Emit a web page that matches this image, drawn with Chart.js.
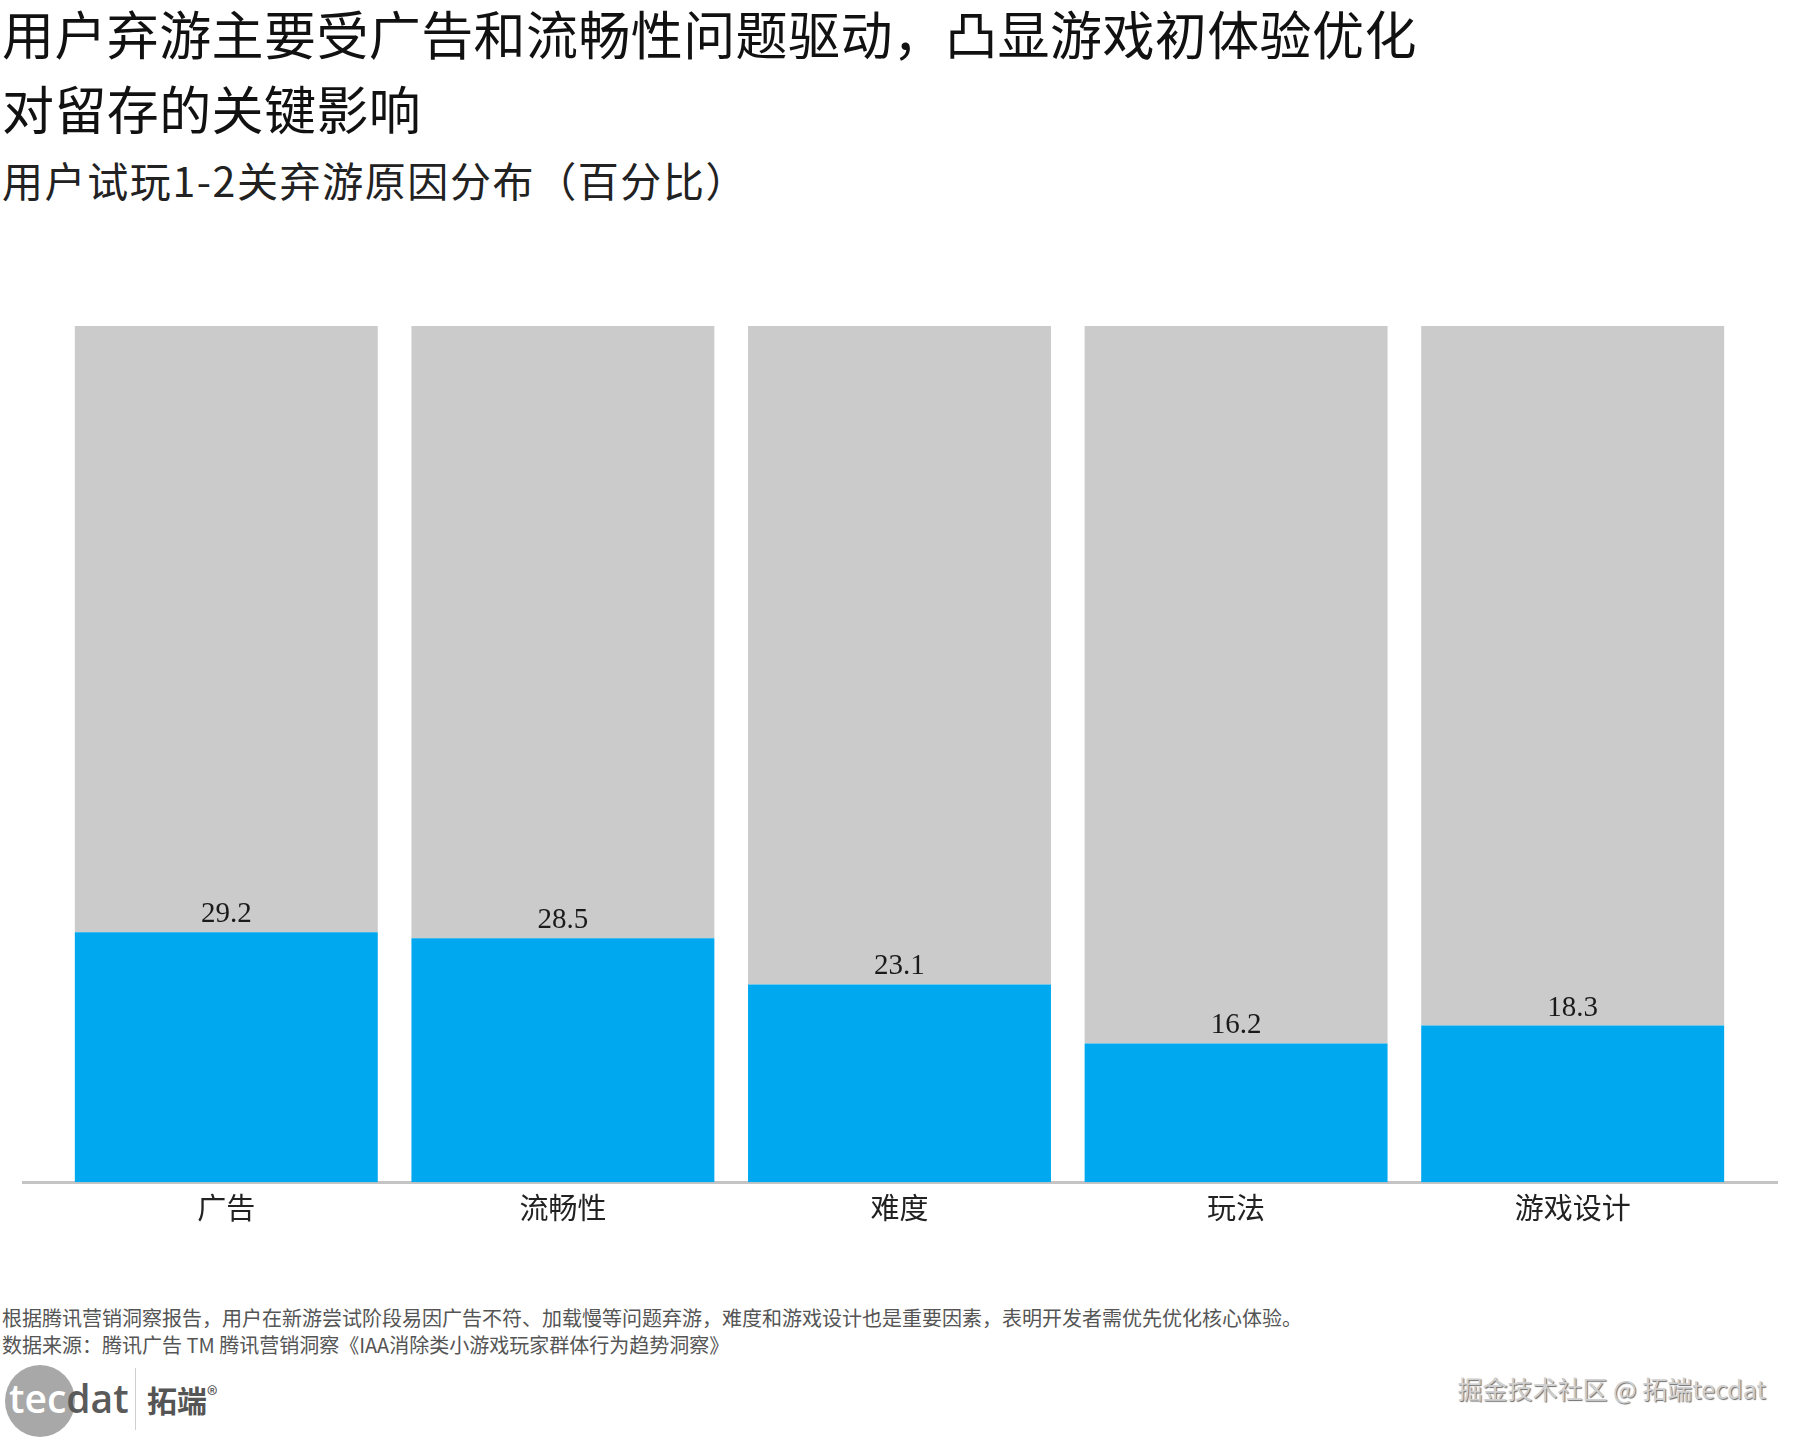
<!DOCTYPE html>
<html lang="zh-CN">
<head>
<meta charset="utf-8">
<title>用户试玩1-2关弃游原因分布</title>
<script src="https://cdn.jsdelivr.net/npm/chart.js@4.4.1/dist/chart.umd.min.js"></script>
<style>
  html, body { margin: 0; padding: 0; background: #ffffff; }
  body { width: 1800px; height: 1440px; position: relative; overflow: hidden;
         font-family: "Noto Sans CJK SC", "Noto Sans", sans-serif; }
  .txt { position: absolute; left: 2px; white-space: nowrap; line-height: 1; }
  #t1 { top: 7px; font-size: 52px; letter-spacing: 0.4px; color: #111; }
  #t2 { top: 82px; font-size: 52px; letter-spacing: 0.4px; color: #111; }
  #sub { top: 159px; font-size: 41px; letter-spacing: 1.6px; color: #222; }
  #note1 { top: 1308px; font-size: 20px; color: #555; }
  #note2 { top: 1335px; font-size: 20px; color: #555; }
  #chartBox { position: absolute; left: 0; top: 300px; width: 1800px; height: 1000px; }
  #logo { position: absolute; left: 0; top: 1362px; width: 260px; height: 78px; }
  #logoCircle { position: absolute; left: 5px; top: 3px; width: 70px; height: 72px; border-radius: 50%; background: #a8a8a8; }
  #logoTec { position: absolute; left: 9px; top: 16px; font-family: "Open Sans", sans-serif; font-weight: 600; font-size: 39px; line-height: 1; color: #fff; }
  #logoTec span { color: #5a5a5a; }
  #logoBar { position: absolute; left: 135px; top: 6px; width: 1px; height: 62px; background: #cfcfcf; }
  #logoCn { position: absolute; left: 147px; top: 20px; font-size: 30px; font-weight: bold; color: #555; line-height: 1; }
  #logoCn sup { font-size: 22px; font-weight: normal; vertical-align: 9px; }
  #wm { position: absolute; right: 34px; top: 1376px; font-size: 25px; color: #d0d0d0; line-height: 1;
        text-shadow: 1px 1px 1px #6d6d6d; white-space: nowrap; }
</style>
</head>
<body>
<div class="txt" id="t1">用户弃游主要受广告和流畅性问题驱动，凸显游戏初体验优化</div>
<div class="txt" id="t2">对留存的关键影响</div>
<div class="txt" id="sub">用户试玩1-2关弃游原因分布（百分比）</div>
<div id="chartBox"><canvas id="c"></canvas></div>
<div class="txt" id="note1">根据腾讯营销洞察报告，用户在新游尝试阶段易因广告不符、加载慢等问题弃游，难度和游戏设计也是重要因素，表明开发者需优先优化核心体验。</div>
<div class="txt" id="note2">数据来源：腾讯广告 TM 腾讯营销洞察《IAA消除类小游戏玩家群体行为趋势洞察》</div>
<div id="logo">
  <div id="logoCircle"></div>
  <div id="logoTec">tec<span>dat</span></div>
  <div id="logoBar"></div>
  <div id="logoCn">拓端<sup>®</sup></div>
</div>
<div id="wm">掘金技术社区 @ 拓端tecdat</div>

<script>
// ---- data ----
const categories = ['广告', '流畅性', '难度', '玩法', '游戏设计'];
const values = [29.2, 28.5, 23.1, 16.2, 18.3];
const totalPct = 100;

// ---- style ----
const BLUE = '#00A8F0';
const GREY = '#CBCBCB';

const remainder = values.map(v => +(totalPct - v).toFixed(1));

const valueLabels = {
  id: 'valueLabels',
  afterDatasetsDraw(chart) {
    const ctx = chart.ctx;
    const meta = chart.getDatasetMeta(0);
    ctx.save();
    ctx.font = '29px "Liberation Serif", "DejaVu Serif", serif';
    ctx.fillStyle = '#1a1a1a';
    ctx.textAlign = 'center';
    ctx.textBaseline = 'alphabetic';
    meta.data.forEach((bar, i) => {
      ctx.fillText(values[i].toFixed(1), bar.x, bar.y - 10);
    });
    ctx.restore();
  }
};

new Chart(document.getElementById('c'), {
  type: 'bar',
  data: {
    datasets: [
      {
        label: '弃游比例',
        data: values.map((v, i) => ({ x: i, y: v })),
        backgroundColor: BLUE,
        borderWidth: 0,
        barPercentage: 0.9,
        categoryPercentage: 1.0,
        stack: 's'
      },
      {
        label: '其余',
        data: remainder.map((v, i) => ({ x: i, y: v })),
        backgroundColor: GREY,
        borderWidth: 0,
        barPercentage: 0.9,
        categoryPercentage: 1.0,
        stack: 's'
      }
    ]
  },
  options: {
    responsive: true,
    maintainAspectRatio: false,
    animation: false,
    devicePixelRatio: 1,
    layout: { padding: { left: 23, right: 23, top: 26, bottom: 75 } },
    plugins: {
      legend: { display: false },
      tooltip: { enabled: false },
      title: { display: false }
    },
    scales: {
      x: {
        type: 'linear',
        stacked: true,
        min: -0.604,
        max: 4.607,
        offset: false,
        grid: { display: false },
        border: { display: true, color: '#C4C4C4', width: 3 },
        afterBuildTicks(scale) {
          scale.ticks = categories.map((_, i) => ({ value: i }));
        },
        ticks: {
          autoSkip: false,
          maxRotation: 0,
          padding: 0,
          color: '#222',
          font: { family: '"Noto Sans CJK SC", sans-serif', size: 29 },
          callback: (v) => categories[v]
        }
      },
      y: {
        stacked: true,
        min: 0,
        max: totalPct,
        display: false
      }
    }
  },
  plugins: [valueLabels]
});
</script>
</body>
</html>
